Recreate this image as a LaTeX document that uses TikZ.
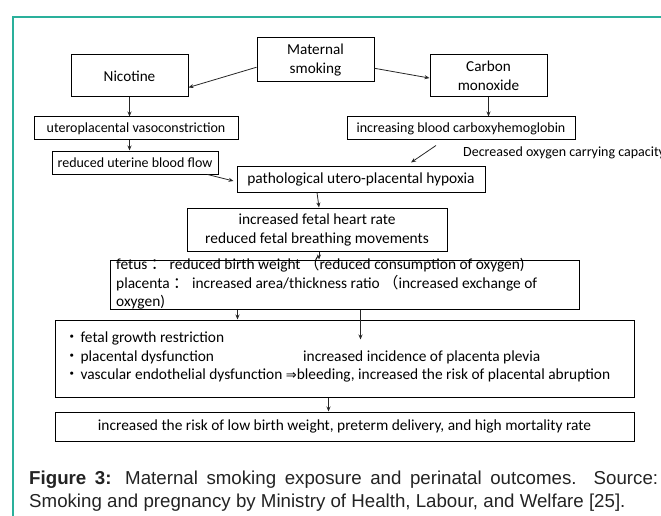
\documentclass[tikz,border=0pt]{standalone}
\usepackage{fontspec}
\setmainfont{Carlito}
\newfontfamily\capfont{Liberation Sans}
\newfontfamily\cjk{Noto Sans CJK SC}
\newfontfamily\djv{DejaVu Sans}
\usetikzlibrary{arrows.meta,calc}
\definecolor{framecol}{RGB}{42,176,155}
\definecolor{captext}{RGB}{35,35,35}
\begin{document}
\begin{tikzpicture}[x=1pt,y=-1pt,
  bx/.style={draw=black,line width=1pt,inner sep=0pt,align=center,
    font=\fontsize{15.2}{18.5}\selectfont},
  sbx/.style={bx,font=\fontsize{14}{19}\selectfont},
  mbx/.style={bx,font=\fontsize{15.4}{19}\selectfont},
  plain/.style={draw=black,line width=1pt,inner sep=0pt},
  txt/.style={inner sep=0pt,anchor=base west,font=\fontsize{14}{19}\selectfont},
  mtxt/.style={txt,font=\fontsize{15.4}{19}\selectfont},
  arr/.style={draw=black!85,line width=0.8pt,-{Stealth[length=5pt,width=4pt]}},
  captxt/.style={inner sep=0pt,anchor=base west,text=captext,
    font=\capfont\fontsize{18.7}{23}\selectfont}]
\useasboundingbox (0,0) rectangle (661,516);
\clip (0,0) rectangle (661,516);
\draw[framecol,line width=1.2pt] (13,530) -- (13,17) -- (680,17);

% boxes
\node[bx,minimum width=117,minimum height=44] (ms) at (315.5,60) {Maternal\\smoking};
\node[bx,minimum width=117,minimum height=42] (nic) at (129.5,76) {Nicotine};
\node[bx,minimum width=117,minimum height=42] (co) at (488.5,76) {Carbon\\monoxide};
\node[sbx,minimum width=204,minimum height=23] (ut) at (136,128.5) {uteroplacental vasoconstriction};
\node[sbx,minimum width=228,minimum height=23] (cb) at (461,128.5) {increasing blood carboxyhemoglobin};
\node[sbx,minimum width=166,minimum height=23] (rf) at (135,162.5) {reduced uterine blood flow};
\node[txt] (dc) at (463,157) {Decreased oxygen carrying capacity};
\node[mbx,minimum width=248,minimum height=26] (hy) at (361,179) {pathological utero-placental hypoxia};
\node[mbx,minimum width=260,minimum height=43] (fh) at (317,229.5) {increased fetal heart rate\\reduced fetal breathing movements};

\node[plain,minimum width=469,minimum height=49] (fe) at (344.5,284.5) {};
\node[mtxt] (fe1) at (116,269) {fetus {\cjk ：} reduced birth weight {\cjk （}reduced consumption of oxygen)};
\node[mtxt] (fe2) at (116,288) {placenta {\cjk ：} increased area/thickness ratio {\cjk （}increased exchange of};
\node[mtxt] (fe3) at (116,306) {oxygen)};

\node[plain,minimum width=579,minimum height=77] (bu) at (344.5,358.5) {};
\node[mtxt] (bu1) at (64,342.5) {{\cjk ・}\hspace{1pt}fetal growth restriction};
\node[mtxt] (bu2) at (64,361) {{\cjk ・}\hspace{1pt}placental dysfunction};
\node[mtxt] (bu2b) at (303,361) {increased incidence of placenta plevia};
\node[mtxt] (bu3) at (64,379.5) {{\cjk ・}\hspace{1pt}vascular endothelial dysfunction {\djv\fontsize{13}{15}\selectfont ⇒}bleeding, increased the risk of placental abruption};

\node[mbx,minimum width=579,minimum height=29] (fi) at (344.5,426.5) {increased the risk of low birth weight, preterm delivery, and high mortality rate};

% caption
\node[captxt] (cap1) at (29,484) {\makebox[629pt][s]{\textbf{Figure 3:} Maternal smoking exposure and perinatal outcomes. Source:}};
\node[captxt] (cap2) at (29,507) {Smoking and pregnancy by Ministry of Health, Labour, and Welfare [25].};

% connectors
\draw[arr] (ms.187.8) -- (nic.349.5);
\draw[arr] (ms.352.2) -- (co.182);
\draw[arr] (nic.south) -- (nic.south |- ut.north);
\draw[arr] (nic.south |- ut.south) -- (nic.south |- rf.north);
\draw[arr] (co.south) -- (co.south |- cb.north);
\draw[arr] ([shift={(-25,5)}]cb.south) -- ([shift={(50,-3)}]hy.north);
\draw[arr] ([xshift=-11pt]rf.south east) -- ([shift={(-3,2)}]hy.west);
\draw[arr] (fh.north |- hy.south) -- ([xshift=2pt]fh.north);
\draw[arr] ([xshift=2pt]fh.south) -- ([xshift=2pt]fh.south |- fe.north);
\draw[arr] ([xshift=128pt]fe.south west) -- ([xshift=183pt]bu.north west);
\coordinate (bt) at ([shift={(306,20)}]bu.north west);
\draw[arr] ([xshift=251pt]fe.south west) -- (bt);
\draw[arr] ([xshift=274pt]bu.south west) -- ([xshift=274pt]fi.north west);
\end{tikzpicture}
\end{document}
